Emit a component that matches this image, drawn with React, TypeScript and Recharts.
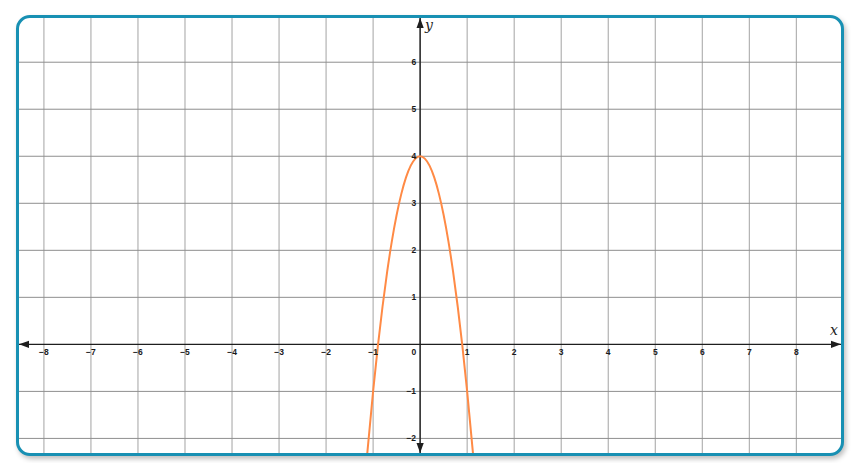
import { LineChart, Line, XAxis, YAxis, ReferenceLine, ReferenceDot } from 'recharts';

const curveX = [-1.13, -1.0, -0.9, -0.8, -0.7, -0.6, -0.5, -0.4, -0.3, -0.2, -0.1, 0, 0.1, 0.2, 0.3, 0.4, 0.5, 0.6, 0.7, 0.8, 0.9, 1.0, 1.13];
const curveY = [-2.38, -1.0, -0.05, 0.8, 1.55, 2.2, 2.75, 3.2, 3.55, 3.8, 3.95, 4, 3.95, 3.8, 3.55, 3.2, 2.75, 2.2, 1.55, 0.8, -0.05, -1.0, -2.38];

const gridX = [-8, -7, -6, -5, -4, -3, -2, -1, 0, 1, 2, 3, 4, 5, 6, 7, 8];
const gridY = [-2, -1, 1, 2, 3, 4, 5, 6];
const xTickLabels = [-8, -7, -6, -5, -4, -3, -2, -1, 1, 2, 3, 4, 5, 6, 7, 8];
const yTickLabels = [-2, -1, 1, 2, 3, 4, 5, 6];

const xDomain = [-8.53, 8.95];
const yDomain = [-2.31, 6.94];

const data = curveX.map((x, i) => ({ x, y: curveY[i] }));

const fmt = (v: number) => (v < 0 ? `\u2212${Math.abs(v)}` : `${v}`);
const tickFont = { fontFamily: 'Liberation Sans, Arial, sans-serif', fontSize: 8.5, fontWeight: 700, fill: '#1a1a1a' };
const axisColor = '#1e1e1e';

const arrow = (dir: 'left' | 'right' | 'up' | 'down') => (p: any) => {
  const { cx, cy } = p;
  const l = 10;
  const w = 3.6;
  let pts = '';
  if (dir === 'left') pts = `${cx},${cy} ${cx + l},${cy - w} ${cx + l},${cy + w}`;
  if (dir === 'right') pts = `${cx},${cy} ${cx - l},${cy - w} ${cx - l},${cy + w}`;
  if (dir === 'up') pts = `${cx},${cy} ${cx - w},${cy + l} ${cx + w},${cy + l}`;
  if (dir === 'down') pts = `${cx},${cy} ${cx - w},${cy - l} ${cx + w},${cy - l}`;
  return <polygon points={pts} fill={axisColor} />;
};

export default function App() {
  return (
    <div style={{ position: 'relative', width: 845, height: 455 }}>
      <div
        style={{
          position: 'absolute',
          left: 8,
          top: 7,
          width: 828,
          height: 441,
          boxSizing: 'border-box',
          border: '3px solid #1890b3',
          borderRadius: 14,
          overflow: 'hidden',
          background: '#fff',
          boxShadow: '2px 3px 5px rgba(0,0,0,0.25)',
        }}
      >
        <LineChart width={822} height={435} data={data} margin={{ top: 0, right: 0, bottom: 0, left: 0 }} style={{ overflow: 'visible' }}>
          <XAxis type="number" dataKey="x" domain={xDomain} allowDataOverflow hide />
          <YAxis type="number" dataKey="y" domain={yDomain} allowDataOverflow hide />
          {gridX.map((v) => (
            <ReferenceLine key={`gx${v}`} x={v} stroke="#a3a3a3" strokeWidth={1} />
          ))}
          {gridY.map((v) => (
            <ReferenceLine key={`gy${v}`} y={v} stroke="#8e8e8e" strokeWidth={1} />
          ))}
          <ReferenceLine x={0} stroke={axisColor} strokeWidth={1.4} />
          <ReferenceLine y={0} stroke={axisColor} strokeWidth={1.4} />
          <Line
            type="monotone"
            dataKey="y"
            stroke="#ff8a45"
            strokeWidth={2}
            dot={false}
            isAnimationActive={false}
          />
          {xTickLabels.map((v) => (
            <ReferenceDot
              key={`xl${v}`}
              x={v}
              y={0}
              r={0}
              ifOverflow="visible"
              shape={(p: any) => (
                <text x={p.cx} y={p.cy + 11} textAnchor="middle" {...tickFont}>
                  {fmt(v)}
                </text>
              )}
            />
          ))}
          {yTickLabels.map((v) => (
            <ReferenceDot
              key={`yl${v}`}
              x={0}
              y={v}
              r={0}
              ifOverflow="visible"
              shape={(p: any) => (
                <text x={p.cx - 4} y={p.cy + 3} textAnchor="end" {...tickFont}>
                  {fmt(v)}
                </text>
              )}
            />
          ))}
          <ReferenceDot
            x={0}
            y={0}
            r={0}
            ifOverflow="visible"
            shape={(p: any) => (
              <text x={p.cx - 4} y={p.cy + 11} textAnchor="end" {...tickFont}>
                0
              </text>
            )}
          />
          <ReferenceDot x={xDomain[0]} y={0} r={0} ifOverflow="visible" shape={arrow('left')} />
          <ReferenceDot x={xDomain[1]} y={0} r={0} ifOverflow="visible" shape={arrow('right')} />
          <ReferenceDot x={0} y={yDomain[1]} r={0} ifOverflow="visible" shape={arrow('up')} />
          <ReferenceDot x={0} y={yDomain[0]} r={0} ifOverflow="visible" shape={arrow('down')} />
          <ReferenceDot
            x={xDomain[1]}
            y={0}
            r={0}
            ifOverflow="visible"
            shape={(p: any) => (
              <text x={p.cx - 7} y={p.cy - 9} textAnchor="middle" fontFamily="DejaVu Serif, serif" fontStyle="italic" fontSize={14} fill="#222">
                x
              </text>
            )}
          />
          <ReferenceDot
            x={0}
            y={yDomain[1]}
            r={0}
            ifOverflow="visible"
            shape={(p: any) => (
              <text x={p.cx + 5} y={p.cy + 12} textAnchor="start" fontFamily="DejaVu Serif, serif" fontStyle="italic" fontSize={14} fill="#222">
                y
              </text>
            )}
          />
        </LineChart>
      </div>
    </div>
  );
}
